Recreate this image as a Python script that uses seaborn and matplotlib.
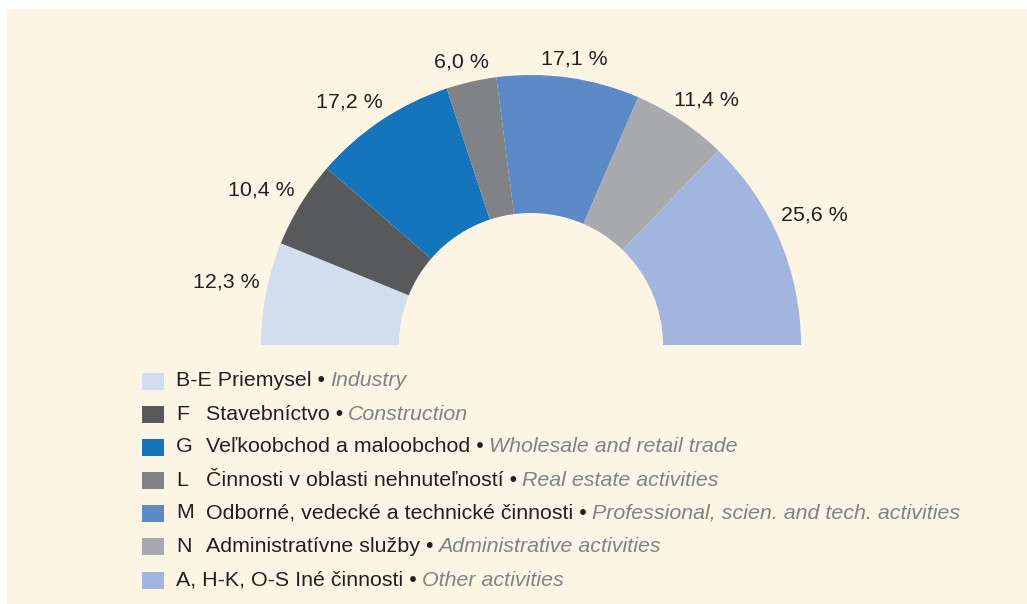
import numpy as np
import matplotlib
matplotlib.use("Agg")
import matplotlib.pyplot as plt
from matplotlib.patches import Rectangle
import seaborn as sns

# data
codes = ["B-E", "F", "G", "L", "M", "N", "A, H-K, O-S"]
names_sk = ["Priemysel", "Stavebníctvo", "Veľkoobchod a maloobchod",
            "Činnosti v oblasti nehnuteľností", "Odborné, vedecké a technické činnosti",
            "Administratívne služby", "Iné činnosti"]
names_en = ["Industry", "Construction", "Wholesale and retail trade",
            "Real estate activities", "Professional, scien. and tech. activities",
            "Administrative activities", "Other activities"]
shares = [12.3, 10.4, 17.2, 6.0, 17.1, 11.4, 25.6]
colors = ["#d3ddf0", "#58595b", "#1474bc", "#808285", "#5b8ac6", "#a7a9ac", "#a1b5de"]

# small hand nudges of the value labels (pixels, x right / y down)
nudge_x = [1, -7, -14, -5, 3, 8, -2]
nudge_y = [-3, 6, 8, 4, 3, 6, -9]

sns.set_theme(style="white")
plt.rcParams["font.family"] = ["Liberation Sans", "DejaVu Sans"]
FS = 15.4

W, H = 1027, 604
fig = plt.figure(figsize=(W / 100, H / 100), dpi=100)
fig.patch.set_facecolor("white")
fig.patches.append(Rectangle((7 / W, 0), 1, (H - 9) / H, transform=fig.transFigure,
                             facecolor="#fdf5e4", edgecolor="none", zorder=-10))

ax = fig.add_axes([0, 0, 1, 1])
ax.set_facecolor("none")

cx, cy, R, ring = 531, H - 345, 270, 138
wedges, _ = ax.pie(shares + [sum(shares)], colors=colors + ["white"], startangle=180,
                   counterclock=False, radius=R, center=(cx, cy),
                   wedgeprops=dict(width=ring, edgecolor="none"))
wedges[-1].set_visible(False)
ax.set_xlim(0, W)
ax.set_ylim(0, H)
ax.axis("off")

# value labels outside the ring
cum = np.cumsum([0] + shares)
for i, v in enumerate(shares):
    ang = np.deg2rad(180 - 1.8 * (cum[i] + v / 2))
    r = 289 + 23 * abs(np.cos(ang))
    ax.text(cx + r * np.cos(ang) + nudge_x[i], cy + r * np.sin(ang) - nudge_y[i],
            f"{v:.1f} %".replace(".", ","),
            ha="center", va="center", fontsize=FS, color="#231f20")

# legend drawn by hand (mixed styles)
fig.canvas.draw()
renderer = fig.canvas.get_renderer()
row_y = [381, 414, 447, 480, 513, 546, 580]
for i in range(len(codes)):
    y = H - row_y[i]
    ax.add_patch(Rectangle((142, y - 8.5), 22, 17, facecolor=colors[i], edgecolor="none"))
    if len(codes[i]) == 1:
        ax.text(176, y, codes[i], ha="left", va="center", fontsize=FS, color="#231f20")
        t = ax.text(206, y, names_sk[i] + " •", ha="left", va="center",
                    fontsize=FS, color="#231f20")
    else:
        t = ax.text(176, y, codes[i] + " " + names_sk[i] + " •", ha="left", va="center",
                    fontsize=FS, color="#231f20")
    x_end = t.get_window_extent(renderer).x1
    ax.text(x_end + 5, y, names_en[i], ha="left", va="center", fontsize=FS,
            color="#808285", style="italic")

fig.savefig("out.png", dpi=100, facecolor=fig.get_facecolor())
